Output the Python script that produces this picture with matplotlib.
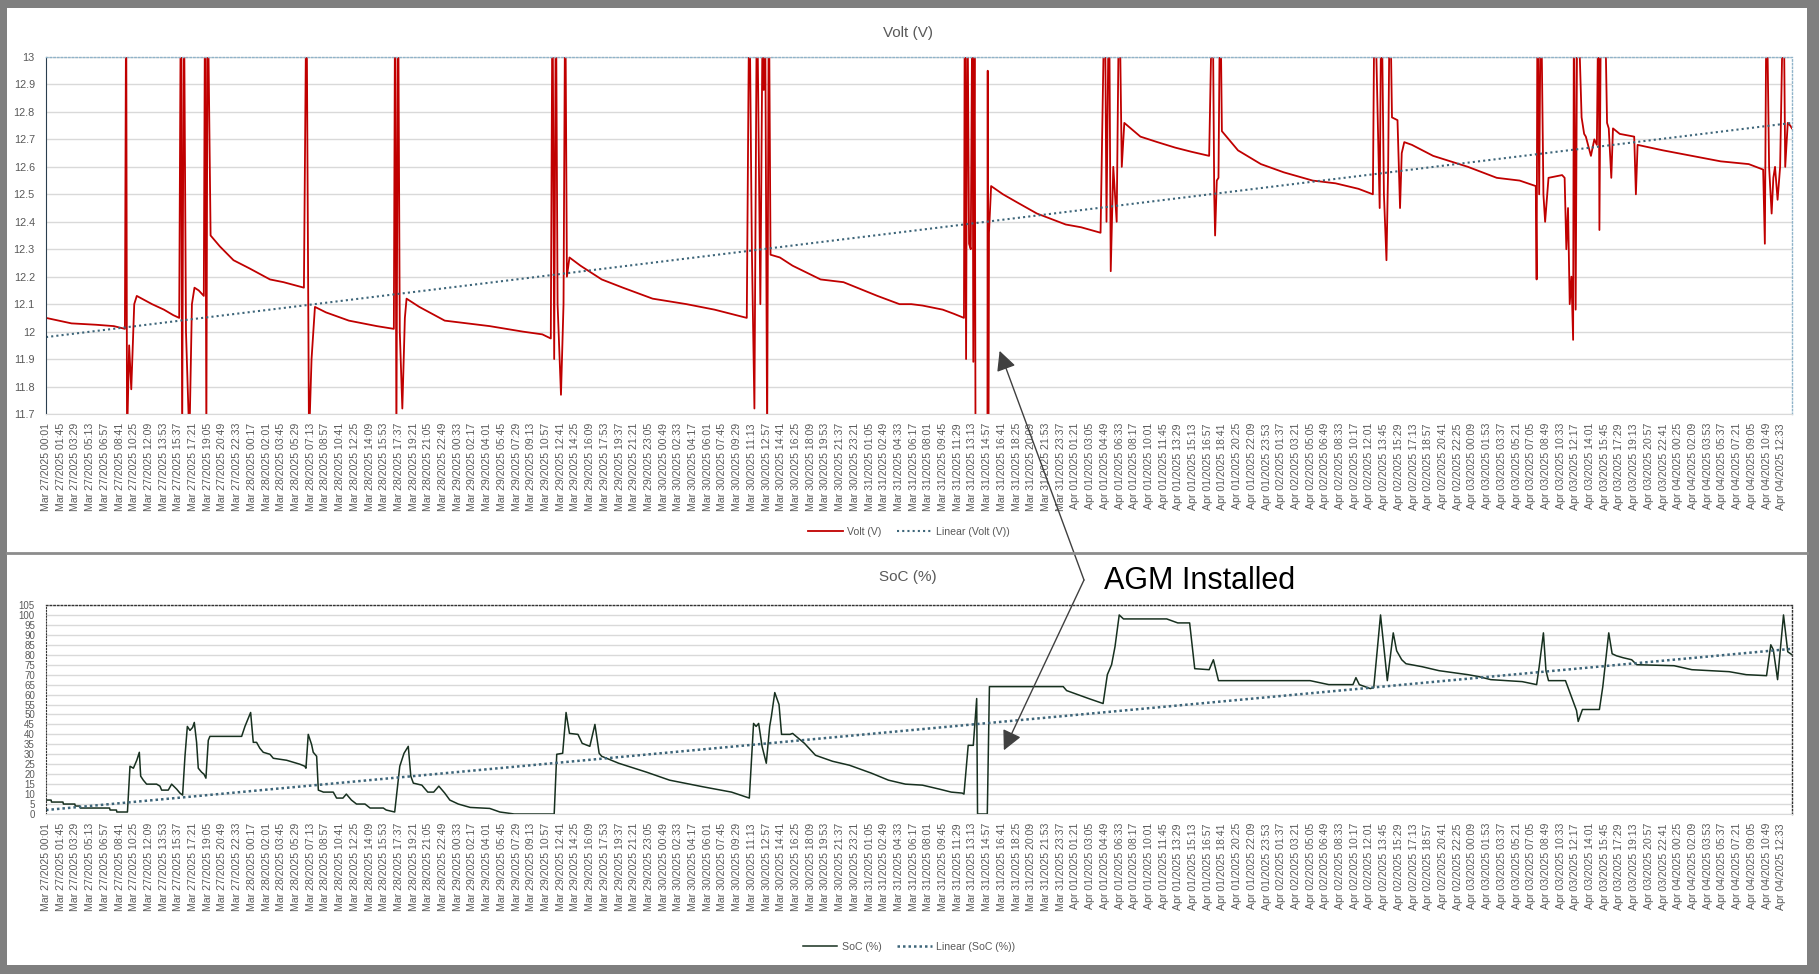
import datetime as dt
import matplotlib
matplotlib.use('Agg')
import matplotlib.pyplot as plt
from matplotlib.patches import Rectangle
from matplotlib.lines import Line2D

plt.rcParams['font.family'] = ['Liberation Sans', 'DejaVu Sans']

# hours since Mar 27/2025 00:01
VOLT_H = [0, 1.5, 3, 5.9, 8, 9.3,
          9.45, 9.55, 9.8, 10.05, 10.4, 10.7, 12.5, 13.9, 15.0, 15.7,
          15.9, 16.05, 16.25, 16.5, 16.9, 17.2, 17.5, 18.0, 18.6,
          18.75, 18.9, 19.05, 19.4, 20.5, 22.1, 24.0, 26.4, 28, 30.4,
          30.7, 31.0, 31.3, 31.7, 33, 35.7, 39, 41.0,
          41.15, 41.3, 41.5, 41.7, 42.0, 42.3, 42.5, 44, 47, 52.3, 56.2, 58.5, 59.5,
          59.7, 59.9, 60.1, 60.3, 60.7, 61.0, 61.2, 61.4, 61.7, 63, 65.5, 68, 71.5, 75.5, 78.8, 82.6,
          82.9, 83.2, 83.5, 83.8, 84.2, 84.5, 84.6, 84.75, 85.0, 85.2, 85.4, 86.5, 88, 91.3, 94.0, 98.0, 100.6,
          102, 103.3, 105.7, 107, 108.2,
          108.3, 108.45, 108.6, 108.8, 109.0, 109.2, 109.3, 109.45, 109.6,
          110.95, 111.0, 111.05, 111.15, 111.4, 112.8, 114.5, 116.8, 120.2, 122, 124.3,
          124.8, 125.0, 125.3, 125.5, 125.8, 126.2, 126.5, 126.8, 127.1, 129.0, 131, 133.1, 135, 137.1,
          137.5, 137.7, 137.8, 138.0, 138.2, 138.4, 138.6, 140.5, 143.2, 145.9, 149.3, 152.0, 154.7, 156.4,
          156.6, 157.2, 157.4, 157.7, 158.0, 158.2, 158.4, 158.65, 159.3, 159.6, 159.8, 160.1, 161,
          163.5, 167.6, 171.0, 173.7, 175.6,
          175.7, 175.8, 176.0, 176.2, 176.5, 176.7, 177.1, 178.7, 179.0, 179.2, 179.4, 179.6, 179.8,
          180.0, 180.1, 180.3, 180.5, 181.0, 181.3, 181.5, 182.1, 182.5, 182.8, 183.0, 183.1, 183.3,
          183.7, 184.0, 184.2, 184.5, 184.7, 185.5, 187.2, 187.4, 187.6, 190.6, 194.0, 197.4, 200.7, 202.4,
          202.6, 202.8, 203.1, 203.4, 203.6, 203.8, 204.1, 204.4, 204.8, 205.0, 205.3, 205.6, 205.8]
VOLT_V = [12.05, 12.04, 12.03, 12.025, 12.02, 12.01,
          13.3, 11.6, 11.95, 11.79, 12.10, 12.13, 12.10, 12.08, 12.06, 12.05,
          13.3, 11.6, 13.3, 12.0, 11.6, 12.1, 12.16, 12.15, 12.13,
          13.3, 11.6, 13.3, 12.35, 12.31, 12.26, 12.23, 12.19, 12.18, 12.16,
          13.3, 11.6, 11.9, 12.09, 12.07, 12.04, 12.02, 12.01,
          13.3, 11.6, 13.3, 12.0, 11.72, 12.05, 12.12, 12.09, 12.04, 12.02, 12.0, 11.99, 11.975,
          13.3, 11.9, 13.3, 12.1, 11.77, 12.1, 13.3, 12.2, 12.27, 12.24, 12.19, 12.16, 12.12, 12.10, 12.08, 12.05,
          13.3, 12.3, 11.72, 13.3, 12.1, 13.3, 12.88, 13.3, 11.6, 13.3, 12.28, 12.27, 12.24, 12.19, 12.18, 12.13, 12.10,
          12.10, 12.095, 12.08, 12.065, 12.05,
          13.3, 11.9, 13.3, 12.32, 12.30, 13.3, 11.89, 13.3, 11.0,
          11.0, 12.95, 11.0, 12.36, 12.53, 12.50, 12.47, 12.43, 12.39, 12.38, 12.36,
          13.3, 12.4, 13.3, 12.22, 12.6, 12.40, 13.3, 12.6, 12.76, 12.71, 12.69, 12.67, 12.655, 12.64,
          13.3, 12.5, 12.35, 12.55, 12.56, 13.3, 12.73, 12.66, 12.61, 12.58, 12.55, 12.54, 12.52, 12.50,
          13.3, 12.45, 13.3, 12.5, 12.26, 12.6, 13.3, 12.78, 12.77, 12.45, 12.65, 12.69, 12.68,
          12.64, 12.60, 12.56, 12.55, 12.53,
          12.19, 13.3, 12.5, 13.3, 12.5, 12.40, 12.56, 12.57, 12.56, 12.30, 12.45, 12.10, 12.20,
          11.97, 13.3, 12.08, 13.3, 12.78, 12.72, 12.71, 12.64, 12.70, 12.68, 13.3, 12.37, 13.3,
          13.3, 12.76, 12.74, 12.56, 12.74, 12.72, 12.71, 12.50, 12.68, 12.66, 12.64, 12.62, 12.61, 12.59,
          12.32, 13.3, 12.6, 12.43, 12.56, 12.6, 12.48, 12.6, 13.3, 12.6, 12.76, 12.75, 12.74]
VOLT_TREND_H = [0, 205.8]
VOLT_TREND_V = [11.98, 12.76]

SOC_H = [0, 0.6, 0.65, 2.0, 2.05, 3.4, 3.45, 4.0, 4.05, 7.5, 7.55, 8.3, 8.35, 9.6,
         9.9, 10.3, 10.7, 11.0, 11.16, 11.47, 11.86, 13.04, 13.43, 13.63, 14.41, 14.81, 15.4, 15.79, 16.1,
         16.38, 16.66, 16.97, 17.28, 17.48, 17.75, 17.95, 18.34, 18.62, 18.85, 19.13, 19.32, 23.06, 23.45,
         23.84, 24.12, 24.43, 24.82, 25.21, 25.61, 26.4, 26.79, 28.36, 29.14, 29.93, 30.5, 30.64, 30.91,
         31.3, 31.5, 31.9, 32.1, 32.7, 33.86, 34.25, 35.0, 35.4, 36.0, 36.6, 37.6, 38.2, 39.76, 40.1, 41.1,
         41.7, 42.2, 42.7, 43.0, 43.3, 44.3, 45.0, 45.7, 46.3, 47.0, 47.6, 48.6, 50, 52.3, 53.5, 55.2, 59.9,
         60.2, 60.9, 61.3, 61.7, 62.7, 63.2, 64.1, 64.7, 65.2, 65.5, 67.5, 70.8, 73.5, 77.4, 80.8, 82.9,
         83.4, 83.7, 84.0, 84.4, 84.9, 85.3, 85.5, 85.9, 86.4, 86.7, 87.7, 88.0, 89.4, 90.7, 92.7, 94.7,
         97.3, 99.3, 101.3, 103.3, 105.3, 106.7, 108.0, 108.2, 108.7, 109.3, 109.7, 109.8, 110.95, 111.2,
         119.9, 120.3, 121.6, 122.9, 124.6, 125.1, 125.6, 126.0, 126.5, 127.0, 132.1, 133.4, 134.8, 135.4,
         137.1, 137.6, 138.2, 149.0, 151.2, 154.05, 154.4, 154.8, 156.1, 156.5, 157.3, 158.1, 158.8, 159.2,
         159.8, 160.3, 162.2, 164.2, 167.6, 168.9, 170.3, 174.0, 175.7, 176.0, 176.5, 176.8, 177.1, 179.1,
         179.8, 180.4, 180.6, 181.1, 183.1, 183.5, 183.8, 184.2, 184.6, 185.1, 185.9, 186.9, 187.5, 191.9,
         194.0, 198.4, 200.4, 202.8, 203.3, 203.6, 204.1, 204.8, 205.3, 205.8]
SOC_V = [7, 7, 6, 6, 5, 5, 4, 4, 3, 3, 2, 2, 1, 1,
         24, 23, 27, 31, 19, 17, 15, 15, 14, 12, 12, 15, 12.5, 10.5, 9.5,
         29, 44, 42, 43.5, 46, 36, 23, 21, 20, 18, 37, 39, 39, 44,
         48, 51, 36, 36, 33, 31, 30, 28, 27, 26, 25, 24, 23, 40,
         35, 31, 29, 12, 11, 11, 8, 8, 10, 7, 5, 5, 3, 3, 2, 1,
         24, 30.5, 34, 19, 15.5, 14.5, 11, 11, 14, 10.5, 7, 5, 3.3, 2.8, 1, 0, 0,
         30, 30.5, 51, 40.5, 40, 35.5, 34, 45, 30.5, 29, 25.5, 21, 17, 13.7, 11, 8,
         45.5, 44, 45.5, 34, 25.5, 44, 49, 61, 55, 40, 40, 40.5, 35.5, 29.5, 26.5, 24.5,
         20.5, 17, 15, 14.5, 12.5, 11, 10.5, 10, 34.5, 34.5, 58, 0, 0, 64,
         64, 62, 60, 58, 55.5, 70, 75, 84, 100, 98, 98, 96, 96, 73,
         72.5, 77.5, 67, 67, 65, 65, 68.5, 65, 63, 63.5, 100, 67, 91, 82,
         77.5, 75.5, 74, 72, 70, 69, 67.5, 66.5, 65, 74, 91, 72, 67, 67,
         59, 52, 46.5, 52.5, 52.5, 64, 75.5, 91, 80.5, 79.5, 78.5, 77.5, 75, 74.5,
         72.5, 71.5, 70, 69.5, 85, 82.5, 67.5, 100, 81.5, 80]
SOC_TREND_H = [0, 205.8]
SOC_TREND_V = [2, 83]

X_MAX = 205.8
TICK_START = dt.datetime(2025, 3, 27, 0, 1)
TICK_STEP_MIN = 104
N_TICKS = 119

W, H = 1819, 974
GRAY_TXT = '#595959'
RED = '#C00000'
SOC_COL = '#17301f'
TREND_COL = '#3d6579'


def fx(px):
    return px / W


def fy(py):
    return 1 - py / H


fig = plt.figure(figsize=(W / 100, H / 100), dpi=100, facecolor='#7f7f7f')
fig.add_artist(Rectangle((fx(7), fy(965)), fx(1800), (965 - 8) / H,
                         transform=fig.transFigure, facecolor='white',
                         edgecolor='none', zorder=0))
fig.add_artist(Line2D([fx(7), fx(1807)], [fy(553), fy(553)], transform=fig.transFigure,
                      color='#8c8c8c', lw=2, zorder=1))

tick_h = [k * TICK_STEP_MIN / 60 for k in range(N_TICKS)]
tick_lbl = [(TICK_START + dt.timedelta(minutes=k * TICK_STEP_MIN)).strftime('%b %d/%Y %H:%M')
            for k in range(N_TICKS)]


def style_axis(ax, yticks, ylim, left_style, top_color, ysize):
    ax.set_xlim(0, X_MAX)
    ax.set_ylim(*ylim)
    ax.set_yticks(yticks)
    ax.set_xticks(tick_h)
    ax.set_xticklabels(tick_lbl, rotation=90, fontsize=7.6, color=GRAY_TXT)
    ax.tick_params(axis='x', length=0, pad=6.5)
    ax.tick_params(axis='y', length=0, pad=8, labelsize=ysize, labelcolor=GRAY_TXT)
    ax.grid(axis='y', color='#d9d9d9', lw=1)
    ax.set_axisbelow(True)
    ax.spines['bottom'].set_color('#d9d9d9')
    ax.spines['left'].set_color(left_style[0])
    ax.spines['left'].set_linestyle(left_style[1])
    for s in ('top', 'right'):
        ax.spines[s].set_color(top_color)
        ax.spines[s].set_linestyle(':')
        ax.spines[s].set_linewidth(1)


# ---- Volt chart
ax1 = fig.add_axes([fx(46), fy(414), fx(1792 - 46), (414 - 57) / H])
ax1.set_facecolor('none')
ax1.plot(VOLT_H, VOLT_V, color=RED, lw=1.3, label='Volt (V)')
ax1.plot(VOLT_TREND_H, VOLT_TREND_V, color=TREND_COL, lw=1.5, ls=(0, (1, 1.5)),
         label='Linear (Volt (V))')
volt_ticks = [11.7 + 0.1 * i for i in range(14)]
style_axis(ax1, volt_ticks, (11.7, 13.0), ('#2b3f4f', '-'), '#8fb3c9', 7.8)
ax1.set_yticklabels(['%g' % round(v, 1) for v in volt_ticks])
fig.text(fx(908), fy(33), 'Volt (V)', ha='center', va='center', fontsize=11, color=GRAY_TXT)
fig.legend(*ax1.get_legend_handles_labels(), loc='center', bbox_to_anchor=(fx(909), fy(532)),
           ncol=2, frameon=False, fontsize=7.6, labelcolor=GRAY_TXT, handlelength=3.3,
           columnspacing=1.5, handletextpad=0.4)

# ---- SoC chart
ax2 = fig.add_axes([fx(46), fy(814), fx(1792 - 46), (814 - 605) / H])
ax2.set_facecolor('none')
ax2.plot(SOC_H, SOC_V, color=SOC_COL, lw=1.1, label='SoC (%)')
ax2.plot(SOC_TREND_H, SOC_TREND_V, color=TREND_COL, lw=1.8, ls=(0, (1, 1.2)),
         label='Linear (SoC (%))')
style_axis(ax2, list(range(0, 106, 5)), (0, 105), ('#333333', ':'), '#333333', 7.0)
fig.text(fx(908), fy(577), 'SoC (%)', ha='center', va='center', fontsize=11, color=GRAY_TXT)
fig.legend(*ax2.get_legend_handles_labels(), loc='center', bbox_to_anchor=(fx(909), fy(947)),
           ncol=2, frameon=False, fontsize=7.6, labelcolor=GRAY_TXT, handlelength=3.3,
           columnspacing=1.5, handletextpad=0.4)

# ---- annotation
fig.text(fx(1104), fy(581), 'AGM Installed', ha='left', va='center', fontsize=22, color='black')
vertex = (fx(1084), fy(580))
arrow = dict(arrowstyle='-|>,head_length=1.2,head_width=0.6', color='#404040', lw=1,
             shrinkA=0, shrinkB=0)
ax1.annotate('', xy=(112.4, 11.93), xycoords='data', xytext=vertex,
             textcoords='figure fraction', arrowprops=arrow, annotation_clip=False)
ax2.annotate('', xy=(112.9, 32), xycoords='data', xytext=vertex,
             textcoords='figure fraction', arrowprops=arrow, annotation_clip=False)

fig.savefig('out.png', dpi=100, facecolor=fig.get_facecolor())
